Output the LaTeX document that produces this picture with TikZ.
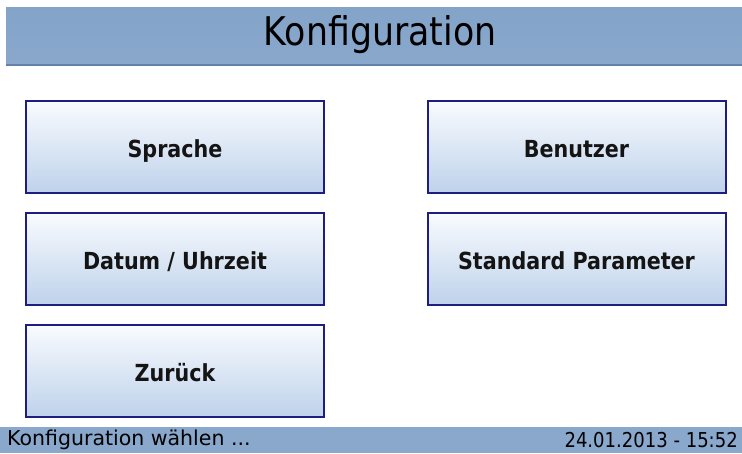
\documentclass[tikz,border=0pt]{standalone}
\usepackage{fontspec}
\setmainfont{DejaVu Sans}[FakeStretch=0.88]
\newfontfamily\widesans{DejaVu Sans}
\definecolor{barblue}{RGB}{137,168,204}
\definecolor{bartop}{RGB}{132,163,200}
\definecolor{barline}{RGB}{100,130,170}
\definecolor{btntop}{RGB}{249,251,254}
\definecolor{btnbot}{RGB}{190,210,235}
\definecolor{btnedge}{RGB}{30,30,130}
\begin{document}
\begin{tikzpicture}[x=1pt,y=-1pt,
  btn/.style={draw=btnedge, line width=2pt, top color=btntop, bottom color=btnbot,
    minimum width=298pt, minimum height=92pt, inner sep=0pt,
    text height=20pt, text depth=0pt,
    font=\fontsize{23.5}{26}\selectfont\bfseries, text=black!92},
  bartext/.style={text=black, inner sep=0pt}]
  \useasboundingbox (0,0) rectangle (742,453);
  \fill[white] (0,0) rectangle (742,453);

  % title bar
  \shade[top color=bartop, bottom color=barblue] (6,7) rectangle (742,65);
  \draw[barline, line width=1.5pt] (6,65) -- (742,65);
  \node[font=\fontsize{39.5}{42}\selectfont, text=black, inner sep=0pt] (title) at (380,35) {Konfiguration};

  % menu buttons
  \node[btn] (sprache)  at (175,147) {Sprache};
  \node[btn] (benutzer) at (576.5,147) {Benutzer};
  \node[btn] (datum)    at (175,259) {Datum / Uhrzeit};
  \node[btn] (standard) at (576.5,259) {Standard Parameter};
  \node[btn] (zurueck)  at (175,371) {Zurück};

  % status bar
  \fill[barblue] (0,427) rectangle (742,453);
  \node[bartext, font=\widesans\fontsize{20.5}{22}\selectfont, anchor=west] (status) at (7,440) {Konfiguration wählen ...};
  \node[bartext, font=\fontsize{20.5}{22}\selectfont, anchor=east] (clock) at (738,440) {24.01.2013 - 15:52};
\end{tikzpicture}
\end{document}
